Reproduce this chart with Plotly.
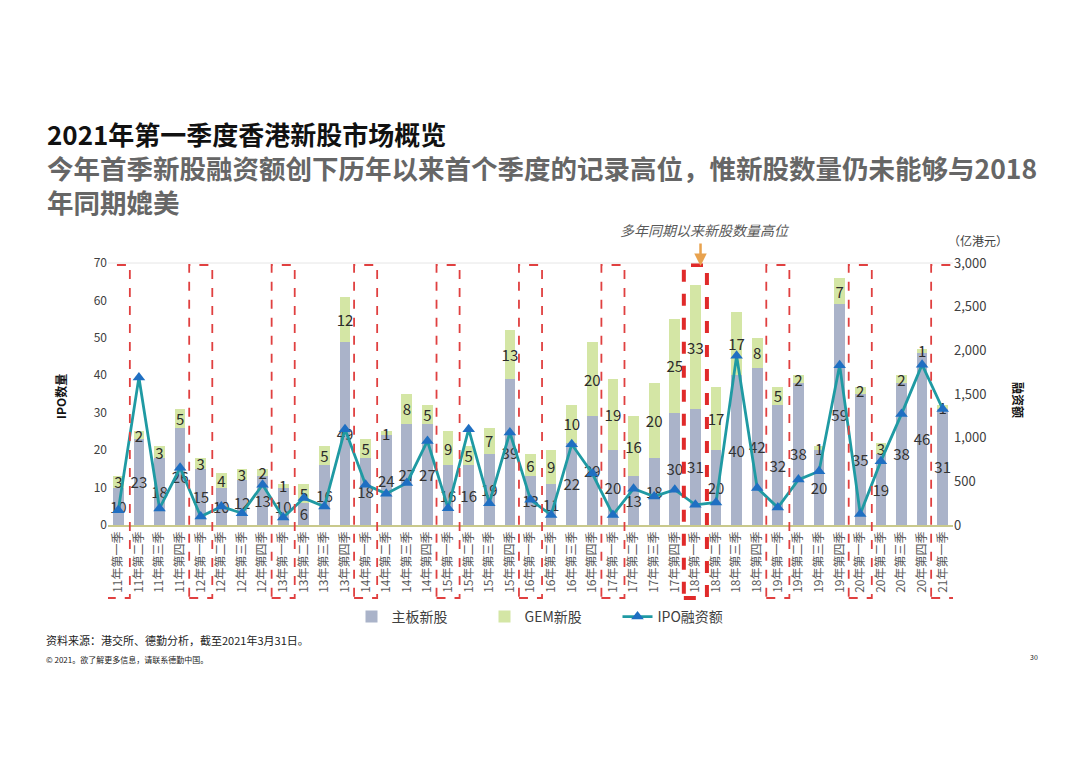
import plotly.graph_objects as go

quarters = [
    "11年第一季", "11年第二季", "11年第三季", "11年第四季",
    "12年第一季", "12年第二季", "12年第三季", "12年第四季",
    "13年第一季", "13年第二季", "13年第三季", "13年第四季",
    "14年第一季", "14年第二季", "14年第三季", "14年第四季",
    "15年第一季", "15年第二季", "15年第三季", "15年第四季",
    "16年第一季", "16年第二季", "16年第三季", "16年第四季",
    "17年第一季", "17年第二季", "17年第三季", "17年第四季",
    "18年第一季", "18年第二季", "18年第三季", "18年第四季",
    "19年第一季", "19年第二季", "19年第三季", "19年第四季",
    "20年第一季", "20年第二季", "20年第三季", "20年第四季",
    "21年第一季",
]
main_board = [10, 23, 18, 26, 15, 10, 12, 13, 10, 6, 16, 49, 18, 24, 27, 27,
              16, 16, 19, 39, 13, 11, 22, 29, 20, 13, 18, 30, 31, 20, 40, 42,
              32, 38, 20, 59, 35, 19, 38, 46, 31]
gem_board = [3, 2, 3, 5, 3, 4, 3, 2, 1, 5, 5, 12, 5, 1, 8, 5,
             9, 5, 7, 13, 6, 9, 10, 20, 19, 16, 20, 25, 33, 17, 17, 8,
             5, 2, 1, 7, 2, 3, 2, 1, 1]
ipo_funds = [170, 1690, 190, 655, 96, 211, 135, 462, 85, 308, 211, 1097,
             462, 358, 481, 962, 193, 1097, 250, 1059, 289, 115, 924, 589,
             115, 416, 327, 404, 231, 258, 1937, 424, 200, 520, 616, 1828,
             127, 731, 1270, 1836, 1328]
highlight_q = "18年第一季"

# page has an 8px body margin: figure is sized to fit the 1080x763 window exactly
OFF = 8
W, H = 1080 - 2 * OFF, 763 - 2 * OFF
ML, MR, MT, MB = 100, 119, 255, 230
PW, PH = W - ML - MR, H - MT - MB

def px(x):
    """page pixel x -> paper fraction"""
    return (x - OFF - ML) / PW

def py(y):
    """page pixel y -> paper fraction"""
    return (H - MB - (y - OFF)) / PH

FONT = "Noto Sans CJK SC, Noto Sans, sans-serif"

fig = go.Figure()
fig.add_trace(go.Bar(
    x=quarters, y=main_board, name="主板新股",
    marker=dict(color="#aab3c9", line=dict(width=0)),
    text=main_board, textposition="inside", insidetextanchor="middle",
    constraintext="none", textangle=0,
    textfont=dict(size=15, color="#333333", family=FONT),
    yaxis="y",
))
fig.add_trace(go.Bar(
    x=quarters, y=gem_board, name="GEM新股",
    marker=dict(color="#d4e6a5", line=dict(width=0)),
    text=gem_board, textposition="inside", insidetextanchor="middle",
    constraintext="none", textangle=0,
    textfont=dict(size=15, color="#2b2b2b", family=FONT),
    yaxis="y",
))
fig.add_trace(go.Scatter(
    x=quarters, y=ipo_funds, name="IPO融资额", mode="lines+markers",
    line=dict(color="#1f9aa3", width=2.8),
    marker=dict(symbol="triangle-up", size=11, color="#1f6fc2"),
    yaxis="y2",
))

shapes = []
for i, q in enumerate(quarters):
    if q.endswith("第一季"):
        big = (q == highlight_q)
        shapes.append(dict(
            type="rect", xref="x", yref="paper",
            x0=i - 0.56, x1=i + 0.56, y0=py(598), y1=py(265),
            line=dict(color="#e02a2a" if big else "#e04040",
                      width=4 if big else 1.8,
                      dash="dash"),
            fillcolor="rgba(0,0,0,0)", layer="above",
        ))
shapes.append(dict(type="line", xref="paper", yref="paper", x0=0, x1=1, y0=1, y1=1,
                   line=dict(color="#e6e6e6", width=1)))

hi = quarters.index(highlight_q)
annotations = [
    dict(text="<b>2021年第一季度香港新股市场概览</b>", xref="paper", yref="paper",
         x=px(45), y=py(134), xanchor="left", yanchor="middle", showarrow=False,
         font=dict(size=26, color="#111111", family=FONT)),
    dict(text="<b>今年首季新股融资额创下历年以来首个季度的记录高位，惟新股数量仍未能够与2018</b><br>"
              "<b>年同期媲美</b>",
         xref="paper", yref="paper", align="left",
         x=px(45), y=py(184), xanchor="left", yanchor="middle", showarrow=False,
         font=dict(size=26.5, color="#666666", family=FONT)),
    dict(text="<i>多年同期以来新股数量高位</i>", xref="paper", yref="paper",
         x=px(705), y=py(230), xanchor="center", yanchor="middle", showarrow=False,
         font=dict(size=14, color="#595959", family=FONT)),
    dict(text="", xref="x", yref="paper", x=hi + 0.25, y=py(266),
         ax=0, ay=-24, axref="pixel", ayref="pixel",
         showarrow=True, arrowhead=2, arrowsize=1, arrowwidth=2.5, arrowcolor="#e8a24e"),
    dict(text="（亿港元）", xref="paper", yref="paper",
         x=px(1010), y=py(240), xanchor="right", yanchor="middle", showarrow=False,
         font=dict(size=12, color="#404040", family=FONT)),
    dict(text="<b>IPO数量</b>", xref="paper", yref="paper", textangle=-90,
         x=px(60), y=py(397), xanchor="center", yanchor="middle", showarrow=False,
         font=dict(size=12, color="#111111", family=FONT)),
    dict(text="<b>融资额</b>", xref="paper", yref="paper", textangle=90,
         x=px(1019), y=py(400), xanchor="center", yanchor="middle", showarrow=False,
         font=dict(size=12, color="#111111", family=FONT)),
    dict(text="资料来源：港交所、德勤分析，截至2021年3月31日。", xref="paper", yref="paper",
         x=px(44), y=py(640), xanchor="left", yanchor="middle", showarrow=False,
         font=dict(size=11, color="#222222", family=FONT)),
    dict(text="© 2021。欲了解更多信息，请联系德勤中国。", xref="paper", yref="paper",
         x=px(44), y=py(659), xanchor="left", yanchor="middle", showarrow=False,
         font=dict(size=8, color="#222222", family=FONT)),
    dict(text="30", xref="paper", yref="paper",
         x=px(1034), y=py(657), xanchor="center", yanchor="middle", showarrow=False,
         font=dict(size=7, color="#222222", family=FONT)),
]

fig.update_layout(
    width=W, height=H,
    margin=dict(l=ML, r=MR, t=MT, b=MB, autoexpand=False),
    paper_bgcolor="white", plot_bgcolor="white",
    barmode="stack", bargap=0.48,
    font=dict(family=FONT, color="#404040"),
    showlegend=True,
    legend=dict(orientation="h", x=px(551), y=py(617), xanchor="center", yanchor="middle",
                font=dict(size=14, color="#404040", family=FONT),
                traceorder="normal", entrywidth=88, bgcolor="rgba(0,0,0,0)"),
    xaxis=dict(type="category", tickangle=-90, showgrid=False,
               showline=True, linecolor="#c9c98c", linewidth=1.5,
               ticks="", tickfont=dict(size=12, color="#595959", family=FONT),
               range=[-0.5, len(quarters) - 0.5]),
    yaxis=dict(range=[0, 70], dtick=10, showgrid=False, zeroline=False,
               showline=False, ticks="",
               tickfont=dict(size=12, color="#404040", family=FONT)),
    yaxis2=dict(range=[0, 3000], dtick=500, overlaying="y", side="right",
                showgrid=False, zeroline=False, showline=False, ticks="",
                tickformat=",", tickfont=dict(size=13, color="#404040", family=FONT)),
    shapes=shapes,
    annotations=annotations,
)

fig.write_html("out.html")
